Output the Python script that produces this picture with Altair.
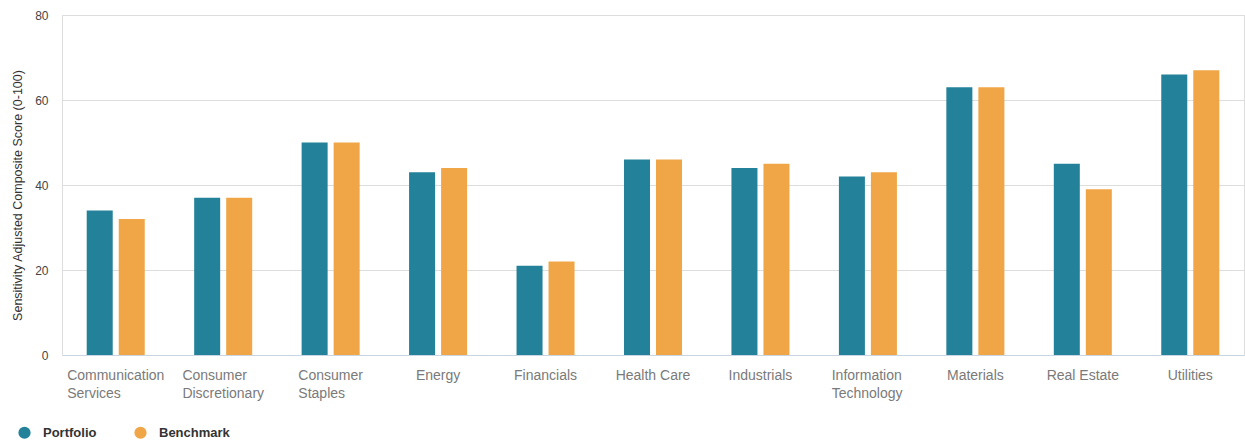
import altair as alt
import pandas as pd

CATEGORIES = [
    "Communication Services", "Consumer Discretionary", "Consumer Staples",
    "Energy", "Financials", "Health Care", "Industrials",
    "Information Technology", "Materials", "Real Estate", "Utilities",
]
SERIES = ["Portfolio", "Benchmark"]
PORTFOLIO = [34, 37, 50, 43, 21, 46, 44, 42, 63, 45, 66]
BENCHMARK = [32, 37, 50, 44, 22, 46, 45, 43, 63, 39, 67]
COLORS = ["#23829a", "#f0a646"]
Y_TICKS = [0, 20, 40, 60, 80]
Y_TITLE = "Sensitivity Adjusted Composite Score (0-100)"

WRAPPED = ["Communication Services", "Consumer Discretionary",
           "Consumer Staples", "Information Technology"]
# half-width of the longest line of each wrapped label (left-aligned block, centered)
WRAP_SHIFT = {"Communication Services": -48.6, "Consumer Discretionary": -40.8,
              "Consumer Staples": -32.3, "Information Technology": -36.2}

rows = []
for c, p, b in zip(CATEGORIES, PORTFOLIO, BENCHMARK):
    rows.append({"category": c, "series": "Portfolio", "value": p})
    rows.append({"category": c, "series": "Benchmark", "value": b})
df = pd.DataFrame(rows)

FONT = "Liberation Sans"
wrapped_list = ",".join("'" + w + "'" for w in WRAPPED)
label_expr = f"indexof([{wrapped_list}], datum.value) >= 0 ? split(datum.label, ' ') : datum.label"

offset_conds = [{"test": f"datum.value == '{k}'", "value": v} for k, v in WRAP_SHIFT.items()]
align_conds = [{"test": f"datum.value == '{k}'", "value": "left"} for k in WRAP_SHIFT]

x_axis = alt.Axis(
    title=None,
    labelAngle=0,
    labelExpr=label_expr,
    labelFont=FONT,
    labelFontSize=14,
    labelColor="#7a7a7a",
    labelLineHeight=18,
    labelBaseline="top",
    labelPadding=13,
    labelAlign={"condition": align_conds, "value": "center"},
    labelOffset={"condition": offset_conds, "value": 0},
    ticks=False,
    domainColor="#c9d5e2",
    domainWidth=1,
    grid=False,
)

y_axis = alt.Axis(
    values=Y_TICKS,
    title=Y_TITLE,
    titleFont=FONT,
    titleFontSize=12.5,
    titleFontWeight="normal",
    titleColor="#333333",
    titleX=-45,
    titleY=180,
    titleAlign="center",
    titleBaseline="middle",
    titleAngle=270,
    labelFont=FONT,
    labelFontSize=12,
    labelColor="#444444",
    labelPadding=14,
    ticks=False,
    grid=True,
    gridColor="#dddddd",
    domainColor="#dddddd",
)

legend = alt.Legend(
    title=None,
    orient="none",
    direction="horizontal",
    legendX=-44,
    legendY=411,
    symbolType="circle",
    symbolSize=150,
    symbolStrokeWidth=0,
    labelFont=FONT,
    labelFontSize=13,
    labelFontWeight="bold",
    labelColor="#333333",
    labelOffset=12,
    columnPadding=37,
)

chart = (
    alt.Chart(df)
    .mark_bar()
    .encode(
        x=alt.X("category:N", sort=CATEGORIES,
                scale=alt.Scale(paddingInner=0.46, paddingOuter=0.23), axis=x_axis),
        xOffset=alt.XOffset("series:N", sort=SERIES,
                            scale=alt.Scale(paddingInner=0.1875, paddingOuter=0)),
        y=alt.Y("value:Q", scale=alt.Scale(domain=[0, 80]), axis=y_axis),
        color=alt.Color("series:N", sort=SERIES,
                        scale=alt.Scale(domain=SERIES, range=COLORS), legend=legend),
    )
    .properties(
        width=1182,
        height=340,
        autosize=alt.AutoSizeParams(type="none"),
        padding={"left": 62, "top": 15, "right": 1, "bottom": 86},
        background="white",
    )
    .configure_view(stroke="#dddddd", strokeWidth=1)
)

chart.save("out.html", embed_options={"renderer": "svg", "actions": False})
